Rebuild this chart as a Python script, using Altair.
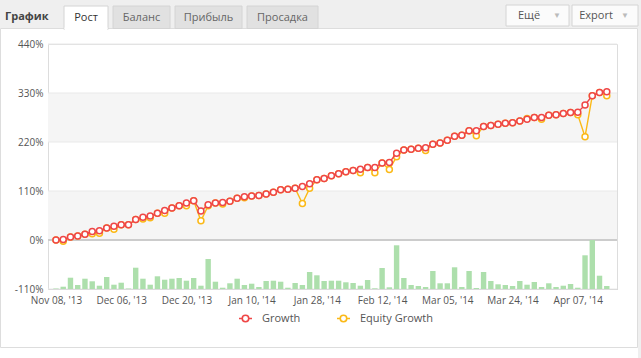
import altair as alt
import pandas as pd

# ---------------- data ----------------
x_labels = ["Nov 08, '13", "Dec 06, '13", "Dec 20, '13", "Jan 10, '14", "Jan 28, '14",
            "Feb 12, '14", "Mar 05, '14", "Mar 24, '14", "Apr 07, '14"]
x_label_idx = [0, 9, 18, 27, 36, 45, 54, 63, 72]

growth = [0, 1, 7, 9, 13, 19, 21, 27, 31, 34,
          34, 46, 51, 54, 60, 66, 72, 77, 83, 88,
          65, 79, 83, 84, 87, 94, 97, 99, 100, 103,
          107, 113, 114, 116, 120, 126, 135, 138, 144, 149,
          153, 156, 159, 163, 163, 173, 174, 195, 202, 204,
          206, 207, 215, 218, 224, 233, 235, 245, 245, 255,
          257, 260, 262, 263, 267, 271, 275, 275, 280, 281,
          284, 286, 287, 303, 324, 331, 333]

equity = [0, -3, 7, 9, 13, 14, 15, 27, 24, 34,
          34, 46, 47, 50, 60, 60, 72, 77, 77, 88,
          43, 77, 83, 81, 87, 94, 95, 99, 100, 103,
          107, 113, 114, 116, 82, 116, 135, 138, 144, 149,
          153, 156, 151, 163, 151, 173, 158, 187, 202, 204,
          206, 201, 215, 218, 224, 233, 235, 245, 234, 255,
          257, 260, 262, 263, 267, 273, 275, 271, 280, 281,
          284, 286, 281, 232, 324, 331, 324]

volume = [0.5, 2.3, 11.3, 4, 10.3, 7.7, 3.3, 12, 4.3, 6.3,
          0.5, 21.3, 10.3, 4.3, 12.7, 9.3, 10.3, 11, 8.3, 11,
          3.3, 30, 7.3, 1.3, 5.7, 10.3, 4, 5.3, 2, 8,
          8.3, 7.3, 1.3, 6, 4, 17, 13.7, 8, 8.3, 8.3,
          6.7, 6, 3.3, 9, 0.7, 21, 1.7, 43.7, 11, 4,
          3, 2, 18, 5.7, 5.7, 21.7, 2, 18, 1, 17,
          8, 4.7, 4, 3, 8, 4.3, 7, 2, 5.7, 2,
          3.3, 5, 1.3, 33.7, 49, 13.3, 3]

y_ticks = [-110, 0, 110, 220, 330, 440]
band_lo = [0, 220]
band_hi = [110, 330]
series_names = ["Growth", "Equity Growth"]
tabs = ["Рост", "Баланс", "Прибыль", "Просадка"]

# ---------------- tables ----------------
idx = list(range(len(growth)))
df = pd.DataFrame({"idx": idx, "volume": volume})
df_g = pd.DataFrame({"idx": idx, "value": growth, "series": "Growth"})
df_e = pd.DataFrame({"idx": idx, "value": equity, "series": "Equity Growth"})
df_bands = pd.DataFrame({"lo": band_lo, "hi": band_hi})
df_ticks = pd.DataFrame({"v": y_ticks})

# ---------------- layout ----------------
W, H = 569, 245
PL, PT, PR, PB = 48, 44, 24, 69
FONT = "Open Sans"
RED = "#ef4646"
YEL = "#fbb917"

label_js = "[" + ",".join('"%s"' % s for s in x_labels) + "][round(datum.value/9)]"
x_axis = alt.Axis(values=x_label_idx, labelExpr=label_js, title=None, ticks=False,
                  labelPadding=6, labelFont=FONT, labelFontSize=10, labelColor="#555555",
                  domainColor="#cccccc", grid=False, labelOverlap=False, labelFlush=False,
                  labelBound=False)
xscale = alt.Scale(domain=[-0.41, 76.72], nice=False, zero=False)
yscale = alt.Scale(domain=[-110, 440], nice=False, zero=False)
X = alt.X("idx:Q", scale=xscale, axis=x_axis)
cscale = alt.Scale(domain=series_names, range=[RED, YEL])

one = alt.Data(values=[{"k": 1}])


def box(x0, x1, y0, y1, fill, stroke=None, sw=1):
    kw = dict(fill=fill)
    if stroke:
        kw.update(stroke=stroke, strokeWidth=sw)
    return alt.Chart(one).mark_rect(**kw).encode(
        x=alt.value(x0 - PL), x2=alt.value(x1 - PL),
        y=alt.value(y0 - PT), y2=alt.value(y1 - PT))


def label(x, y, text, color="#555555", size=11, weight="normal", align="center"):
    return alt.Chart(one).mark_text(text=text, font=FONT, fontSize=size, color=color,
                                    fontWeight=weight, align=align, baseline="middle").encode(
        x=alt.value(x - PL), y=alt.value(y - PT))


# chrome (page widget)
chrome = [
    box(0, 641, 0, 28, "#efefef"),
    box(638, 641, 0, 358, "#efefef"),
    box(0.5, 637.5, 28.5, 347.5, "transparent", "#dddddd"),
]
tab_x = [(64, 108), (113, 170), (175, 242), (247, 318)]
for i, (t, (a, b)) in enumerate(zip(tabs, tab_x)):
    if i == 0:
        chrome.append(box(a, b, 6, 29.5, "#ffffff", "#d4d4d4"))
        chrome.append(box(a + 0.5, b - 0.5, 27.5, 30, "#ffffff"))
        chrome.append(label((a + b) / 2, 18, t, color="#333333"))
    else:
        chrome.append(box(a, b, 6, 28.5, "#e1e1e1", "#d4d4d4"))
        chrome.append(label((a + b) / 2, 18, t, color="#666666"))
chrome.append(label(5, 17, "График", color="#444444", weight="bold", align="left"))
chrome.append(box(506, 569, 5, 26, "#fbfbfb", "#d4d4d4"))
chrome.append(label(529, 15.5, "Ещё", color="#555555"))
chrome.append(label(557, 15.5, "▼", color="#bbbbbb", size=8))
chrome.append(box(572, 638, 5, 26, "#fbfbfb", "#d4d4d4"))
chrome.append(label(596, 15.5, "Export", color="#555555"))
chrome.append(label(625, 15.5, "▼", color="#bbbbbb", size=8))

# plot content
bands = alt.Chart(df_bands).mark_rect(color="#f5f5f5").encode(
    x=alt.value(0), x2=alt.value(W),
    y=alt.Y("lo:Q", scale=yscale, axis=None), y2="hi:Q")

grid = alt.Chart(df_ticks).mark_rule(color="#e9e9e9", strokeWidth=1).encode(
    x=alt.value(0), x2=alt.value(W),
    y=alt.Y("v:Q", scale=yscale,
            axis=alt.Axis(values=y_ticks, labelExpr="datum.value + '%'", title=None,
                          ticks=False, domain=False, grid=False, labelPadding=5,
                          labelFont=FONT, labelFontSize=10, labelColor="#555555")))

zero = alt.Chart(df_ticks).transform_filter("datum.v == 0").mark_rule(
    color="#cccccc", strokeWidth=2).encode(
    x=alt.value(0), x2=alt.value(W), y=alt.Y("v:Q", scale=yscale, axis=None))

bars = alt.Chart(df).mark_bar(size=5.4, color="#addfac", orient="vertical").encode(
    x=X,
    y=alt.Y("volume:Q", scale=alt.Scale(domain=[0, max(volume) * 5], nice=False), axis=None))

legend = alt.Legend(title=None, orient="none", legendX=190, legendY=267, direction="horizontal",
                    columns=2, columnPadding=32, labelFont=FONT, labelFontSize=11,
                    labelColor="#555555", labelOffset=9, padding=0,
                    symbolType="M-1,0L-0.5,0M0.5,0L1,0M-0.5,0A0.5,0.5 0 1,0 0.5,0A0.5,0.5 0 1,0 -0.5,0",
                    symbolSize=169, symbolStrokeWidth=1.6, symbolFillColor="white")


def series_layers(d):
    ln = alt.Chart(d).mark_line(strokeWidth=1.4).encode(
        x=X, y=alt.Y("value:Q", scale=yscale, axis=None),
        color=alt.Color("series:N", scale=cscale, legend=legend))
    pt = alt.Chart(d).mark_point(shape="circle", filled=True, fill="white", size=36,
                                 strokeWidth=1.5, opacity=1).encode(
        x=X, y=alt.Y("value:Q", scale=yscale, axis=None),
        stroke=alt.Stroke("series:N", scale=cscale, legend=None))
    return [ln, pt]


layers = chrome + [bands, grid, zero, bars] + series_layers(df_e) + series_layers(df_g)

chart = alt.layer(*layers).resolve_scale(y="independent").properties(
    width=W, height=H,
    padding={"left": PL, "top": PT, "right": PR, "bottom": PB},
    autosize=alt.AutoSizeParams(type="none"),
    background="#ffffff",
).configure_view(stroke="#dddddd")

chart.save("out.html", embed_options={"renderer": "svg", "actions": False})
